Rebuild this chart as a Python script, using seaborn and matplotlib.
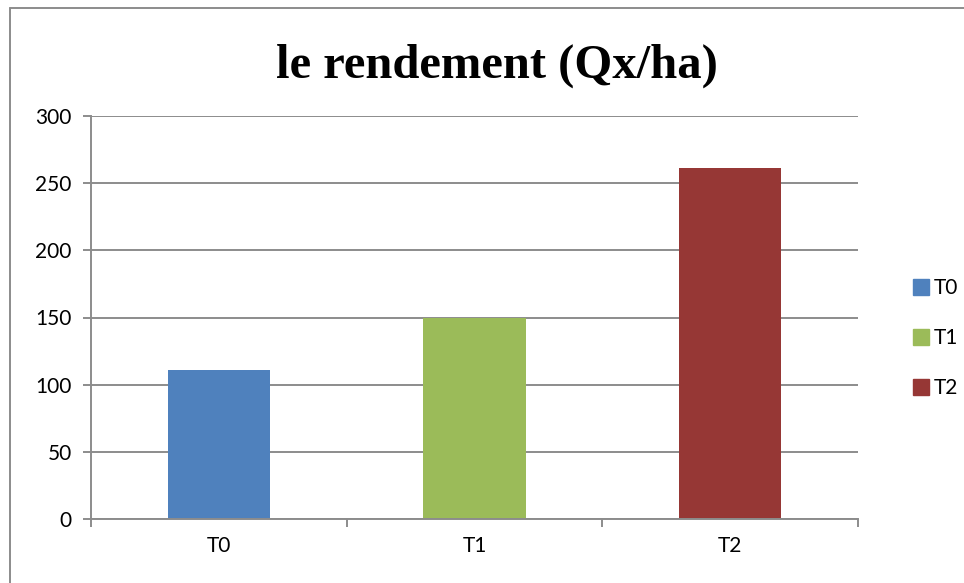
import pandas as pd
import matplotlib
matplotlib.use("Agg")
import matplotlib.pyplot as plt
import seaborn as sns
from matplotlib.lines import Line2D

# data
categories = ["T0", "T1", "T2"]
rendement = [111, 150, 261]
colors = ["#4F81BD", "#9BBB59", "#963735"]
title = "le rendement (Qx/ha)"

df = pd.DataFrame({"traitement": categories, "rendement": rendement})

sns.set_theme(style="white")
plt.rcParams["font.family"] = ["Lato", "DejaVu Sans"]
plt.rcParams["text.color"] = "black"
plt.rcParams["xtick.color"] = "black"
plt.rcParams["ytick.color"] = "black"

fig = plt.figure(figsize=(9.64, 5.83), dpi=100)
ax = fig.add_axes([91 / 964, 1 - 519 / 583, (858 - 91) / 964, (519 - 116) / 583])

sns.barplot(data=df, x="traitement", y="rendement", hue="traitement",
            palette=colors, width=0.4, dodge=False, legend=False, ax=ax,
            saturation=1, linewidth=0)

grid_c = "#8C8C8C"
ax.set_ylim(0, 300)
ax.set_xlim(-0.5, 2.5)
ax.set_yticks(range(0, 301, 50))
ax.yaxis.grid(True, color=grid_c, linewidth=1.4)
ax.set_axisbelow(True)
ax.set_xlabel("")
ax.set_ylabel("")

for side in ["top", "right"]:
    ax.spines[side].set_visible(False)
for side in ["left", "bottom"]:
    ax.spines[side].set_color(grid_c)
    ax.spines[side].set_linewidth(1.4)

# Excel style ticks: y ticks outward, x ticks between categories
ax.tick_params(axis="y", length=6, width=1.4, color=grid_c, labelcolor="black",
               labelsize=15, pad=8, left=True)
ax.tick_params(axis="x", which="major", length=0, labelcolor="black", labelsize=15, pad=12)
ax.set_xticks([-0.5, 0.5, 1.5, 2.5], minor=True)
ax.tick_params(axis="x", which="minor", length=6, width=1.4, color=grid_c, bottom=True, direction="out")

fig.text(497 / 964, 1 - 66 / 583, title, ha="center", va="center", color="black",
         fontsize=35, fontweight="bold", family="Liberation Serif")

handles = [Line2D([0], [0], marker="s", linestyle="", markersize=11,
                  markerfacecolor=c, markeredgecolor=c) for c in colors]
fig.legend(handles, categories, loc="center left",
           bbox_to_anchor=(892 / 964, 1 - 338 / 583), frameon=False,
           fontsize=15, handletextpad=0.1, labelspacing=1.45, handlelength=1.0)

# chart frame (only top and left edges visible in the picture)
fig.add_artist(Line2D([9.5 / 964, 9.5 / 964], [0, 1 - 8 / 583], color=grid_c, linewidth=1.4))
fig.add_artist(Line2D([9.5 / 964, 1], [1 - 8 / 583, 1 - 8 / 583], color=grid_c, linewidth=1.4))

fig.savefig("out.png", dpi=100)
